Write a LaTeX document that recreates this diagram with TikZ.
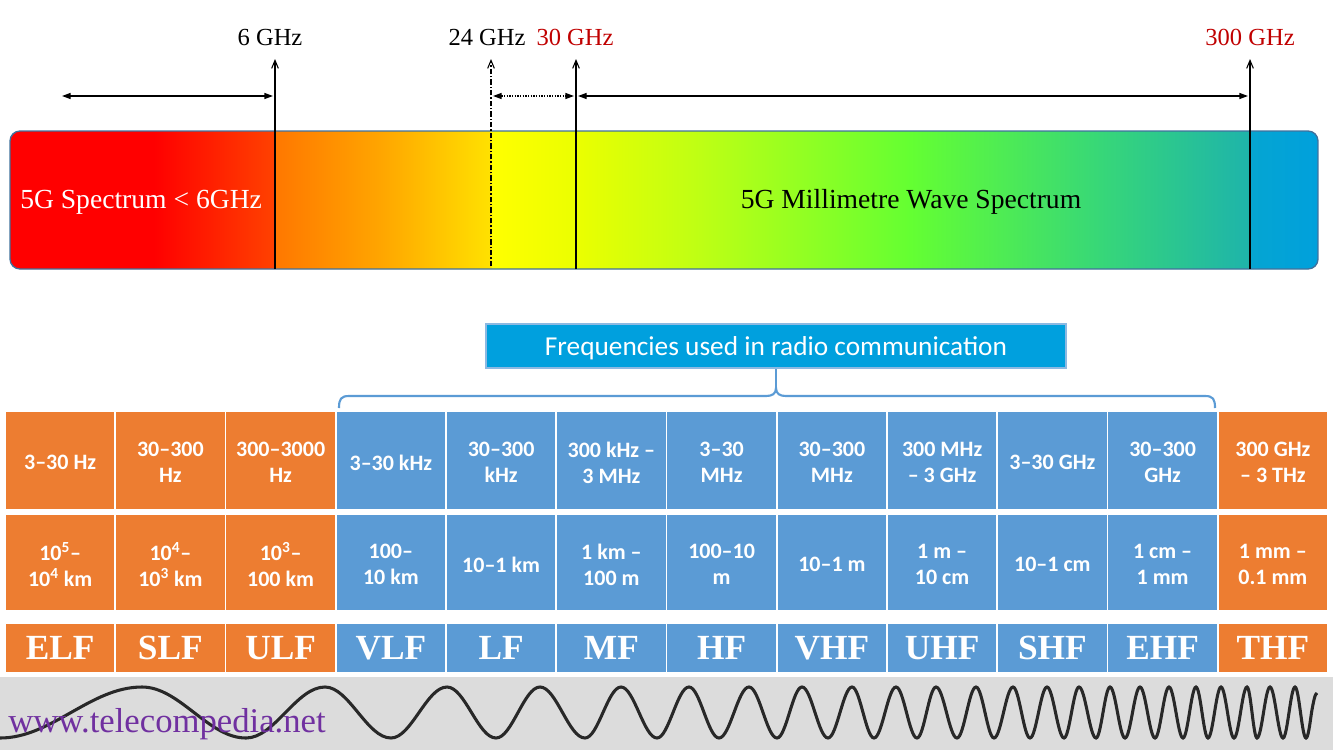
\documentclass[tikz,border=0pt]{standalone}
\usepackage{fontspec}
\setmainfont{Liberation Serif}
\newfontfamily\calfont{Carlito}
\usetikzlibrary{arrows.meta}
\definecolor{orng}{RGB}{237,125,49}
\definecolor{blu}{RGB}{91,155,213}
\definecolor{hdr}{RGB}{0,160,222}
\definecolor{darkred}{RGB}{192,0,0}
\definecolor{purp}{RGB}{112,48,160}
\definecolor{stripgray}{RGB}{220,220,220}
\definecolor{barborder}{RGB}{65,113,156}
\definecolor{wavecol}{RGB}{40,40,40}
\definecolor{sA}{RGB}{255,0,0}
\definecolor{sB}{RGB}{255,65,0}
\definecolor{sC}{RGB}{255,120,0}
\definecolor{sD}{RGB}{255,165,0}
\definecolor{sE}{RGB}{255,225,0}
\definecolor{sF}{RGB}{255,255,0}
\definecolor{sG}{RGB}{235,255,0}
\definecolor{sH}{RGB}{190,255,20}
\definecolor{sI}{RGB}{100,255,50}
\definecolor{sJ}{RGB}{55,215,120}
\definecolor{sK}{RGB}{30,180,170}
\definecolor{sL}{RGB}{5,165,210}
\definecolor{sM}{RGB}{0,160,220}
\pgfdeclarehorizontalshading{spec}{100bp}{color(0bp)=(sA); color(25bp)=(sA); color(30.5bp)=(sA); color(35.09bp)=(sB); color(35.17bp)=(sC); color(39.14bp)=(sD); color(43.35bp)=(sE); color(43.43bp)=(sF); color(46.64bp)=(sG); color(51.38bp)=(sH); color(59.40bp)=(sI); color(66.67bp)=(sJ); color(72.36bp)=(sK); color(72.44bp)=(sL); color(75bp)=(sM); color(100bp)=(sM)}
\begin{document}
\begin{tikzpicture}[x=0.75pt,y=-0.75pt,
  bar/.style={shade, shading=spec, draw=barborder, line width=1pt, rounded corners=7.5pt,
    minimum width=1308*0.75pt, minimum height=138*0.75pt, inner sep=0pt},
  toplbl/.style={font=\fontsize{18.4pt}{22pt}\selectfont, inner sep=0pt},
  bartxt/.style={font=\fontsize{20.7pt}{24pt}\selectfont, inner sep=0pt},
  vline/.style={line width=0.8pt, -{Straight Barb[length=6pt,width=5pt]}},
  harrow/.style={line width=1pt, {Triangle[length=6.5pt,width=4.5pt]}-{Triangle[length=6.5pt,width=4.5pt]}},
  cellA/.style={minimum width=110.25*0.75pt, minimum height=99*0.75pt},
  cellB/.style={minimum width=110.25*0.75pt, minimum height=97*0.75pt},
  cellC/.style={minimum width=110.25*0.75pt, minimum height=49*0.75pt},
  cell/.style={draw=white, line width=1.2pt, inner sep=0pt},
  celltext/.style={inner sep=0pt, text=white, align=center,
    font=\calfont\bfseries\fontsize{16.5pt}{19.5pt}\selectfont},
  bandtxt/.style={text=white, font=\bfseries\fontsize{26.5pt}{30pt}\selectfont},
  brc/.style={draw=blu, line width=1.6pt},
  wave/.style={draw=wavecol, line width=2.3pt}
]
\useasboundingbox (0,0) rectangle (1333,750);

% spectrum bar
\node[bar] (bar) at (664,200) {};
\node[bartxt, text=white, anchor=west] (lowtxt) at (20,202) {5G Spectrum < 6GHz};
\node[bartxt, text=black] (mmtxt) at (911,202) {5G Millimetre Wave Spectrum};

% frequency labels
\node[toplbl] (lab6) at (270,37) {6 GHz};
\node[toplbl] (lab24) at (487,37) {24 GHz};
\node[toplbl, text=darkred] (lab30) at (575,37) {30 GHz};
\node[toplbl, text=darkred] (lab300) at (1250,37) {300 GHz};

% marker lines
\coordinate (l6b) at (275,269);   \coordinate (l6t) at (275,59);
\coordinate (l24b) at (491,266);  \coordinate (l24t) at (491,59);
\coordinate (l30b) at (576,269);  \coordinate (l30t) at (576,59);
\coordinate (l300b) at (1250,269); \coordinate (l300t) at (1250,59);
\draw[vline] (l6b) -- (l6t);
\draw[vline, dash pattern=on 4pt off 1.5pt on 1pt off 1.5pt] (l24b) -- (l24t);
\draw[vline] (l30b) -- (l30t);
\draw[vline] (l300b) -- (l300t);

% range arrows
\coordinate (a1) at (62,96);  \coordinate (a2) at (273,96);
\coordinate (a3) at (493,96); \coordinate (a4) at (574,96);
\coordinate (a5) at (578,96); \coordinate (a6) at (1248,96);
\draw[harrow] (a1) -- (a2);
\draw[harrow, densely dotted] (a3) -- (a4);
\draw[harrow] (a5) -- (a6);

% radio communication header and brace
\node[fill=hdr, draw=blu!70!white, line width=0.8pt, minimum width=580*0.75pt, minimum height=44*0.75pt,
  inner sep=0pt] (freq) at (776,346) {};
\node[inner sep=0pt, text=white, font=\calfont\fontsize{20.5pt}{24pt}\selectfont] (freqtxt)
  at ([yshift=-1.5pt]freq.center) {Frequencies used in radio communication};
\coordinate (bl) at (339,408);
\coordinate (btip) at (776,388);
\coordinate (br) at (1215,408);
\draw[brc] (bl) .. controls (339,399) and (341,396) .. (349,396) -- (766,396)
  .. controls (772,396) and (776,394) .. (btip)
  .. controls (776,394) and (780,396) .. (786,396) -- (1205,396)
  .. controls (1213,396) and (1215,399) .. (br);
\draw[brc] (btip) -- (freq.south);

% table
\foreach \i/\col/\fa/\wl/\bn in {
  0/orng/{3–30 Hz}/{10\textsuperscript{5}–\\10\textsuperscript{4} km}/ELF,
  1/orng/{30–300\\Hz}/{10\textsuperscript{4}–\\10\textsuperscript{3} km}/SLF,
  2/orng/{300–3000\\Hz}/{10\textsuperscript{3}–\\100 km}/ULF,
  3/blu/{3–30 kHz}/{100–\\10 km}/VLF,
  4/blu/{30–300\\kHz}/{10–1 km}/LF,
  5/blu/{300 kHz –\\3 MHz}/{1 km –\\100 m}/MF,
  6/blu/{3–30\\MHz}/{100–10\\m}/HF,
  7/blu/{30–300\\MHz}/{10–1 m}/VHF,
  8/blu/{300 MHz\\– 3 GHz}/{1 m –\\10 cm}/UHF,
  9/blu/{3–30 GHz}/{10–1 cm}/SHF,
  10/blu/{30–300\\GHz}/{1 cm –\\1 mm}/EHF,
  11/orng/{300 GHz\\– 3 THz}/{1 mm –\\0.1 mm}/THF} {
  \node[cell, cellA, fill=\col] (f\i) at ({5+(\i+0.5)*110.25},460.5) {};
  \node[celltext] (ft\i) at ([yshift=-1.5pt]f\i.center) {\fa};
  \node[cell, cellB, fill=\col] (w\i) at ({5+(\i+0.5)*110.25},562.5) {};
  \node[celltext] (wt\i) at ([yshift=-1.5pt]w\i.center) {\wl};
  \node[cell, cellC, fill=\col, bandtxt] (b\i) at ({5+(\i+0.5)*110.25},648) {\bn};
}

% wave strip
\fill[stripgray] (0,677) rectangle (1333,750);
\draw[wave] (0,738) foreach \a/\b [remember=\a as \pa (initially 0)] in {
  142/687, 246/738, 325/687, 391/738, 447/687, 496/738, 540/687, 585/738, 621/687, 657/738,
  689/687, 719/738, 749/687, 777/738, 802/687, 828/738, 852/687, 874/738, 896/687, 917/738,
  936/687, 957/738, 976/687, 994/738, 1013/687, 1030/738, 1047/687, 1064/738, 1079/687, 1096/738,
  1110/687, 1125/738, 1140/687, 1155/738, 1169/687, 1183/738, 1196/687, 1208/738, 1221/687, 1234/738,
  1247/687, 1257/738, 1270/687, 1283/738, 1295/687, 1306/738, 1317/693}
  { cos ({(\pa+\a)/2},712.5) sin (\a,\b) };
\node[text=purp, anchor=base west, inner sep=0pt, font=\fontsize{26pt}{30pt}\selectfont] (site) at (8,732) {www.telecompedia.net};
\end{tikzpicture}
\end{document}
